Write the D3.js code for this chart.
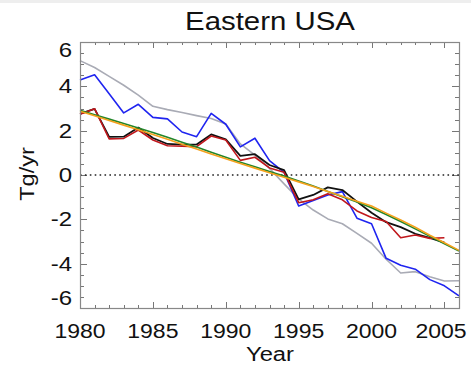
<!DOCTYPE html>
<head>
    <title>Eastern USA</title>
    <script src="https://d3js.org/d3.v7.min.js"></script>
    <style>
        body{
            margin: 0;
            background: #fff;
        }
        svg{
            display: block;
        }
        text{
            font-family: "Liberation Sans", Arial, Helvetica, sans-serif;
            fill: #111;
        }
    </style>
</head>
<body>
    <svg id="chart" width="471" height="367"></svg>
    <script>
        // Data (Tg/yr)
        var years = d3.range(1980, 2007);
        var grayVals = [5.16, 4.85, 4.45, 4.05, 3.6, 3.1, 2.95, 2.82, 2.68, 2.55, 2.3, 1.4, 0.9, 0.3, -0.4, -1.08, -1.58, -1.98, -2.2, -2.63, -3.08, -3.8, -4.42, -4.36, -4.59, -4.78, -4.77];
        var blueVals = [4.29, 4.52, 3.67, 2.8, 3.19, 2.6, 2.53, 1.94, 1.73, 2.78, 2.29, 1.27, 1.66, 0.65, 0.12, -1.4, -1.15, -0.9, -0.75, -1.95, -2.2, -3.76, -4.07, -4.25, -4.72, -5.0, -5.45];
        var blackVals = [2.76, 2.98, 1.72, 1.73, 2.14, 1.67, 1.4, 1.37, 1.38, 1.83, 1.61, 0.86, 0.94, 0.45, 0.22, -1.1, -0.9, -0.56, -0.68, -1.2, -1.7, -2.13, -2.35, -2.65, -2.84, -3.05];
        var redVals = [2.74, 2.99, 1.63, 1.65, 2.03, 1.58, 1.32, 1.3, 1.28, 1.76, 1.58, 0.66, 0.8, 0.32, 0.12, -1.25, -1.12, -0.85, -1.12, -1.62, -1.92, -2.1, -2.83, -2.71, -2.86, -2.83];
        var greenVals = [2.92, 2.72, 2.52, 2.32, 2.12, 1.92, 1.7, 1.48, 1.26, 1.03, 0.8, 0.58, 0.37, 0.16, -0.05, -0.27, -0.5, -0.74, -0.98, -1.22, -1.48, -1.78, -2.1, -2.43, -2.77, -3.1, -3.43];
        var orangeVals = [2.88, 2.67, 2.46, 2.25, 2.04, 1.83, 1.61, 1.39, 1.17, 0.95, 0.73, 0.52, 0.31, 0.1, -0.1, -0.31, -0.52, -0.74, -0.96, -1.18, -1.4, -1.72, -2.03, -2.36, -2.72, -3.06, -3.4];

        var xTickLabels = [1980, 1985, 1990, 1995, 2000, 2005];
        var yTickLabels = [-6, -4, -2, 0, 2, 4, 6];

        var svg = d3.select("#chart");
        var pLeft = 80, pRight = 459, pTop = 42, pBottom = 308;

        var x = d3.scaleLinear().domain([1980, 2006]).range([pLeft, pRight]);
        var y = d3.scaleLinear().domain([-6, 6]).range([pBottom, pTop]);

        // thin grey strip along the top edge of the image
        svg.append("rect").attr("x", 0).attr("y", 0).attr("width", 471).attr("height", 3).attr("fill", "#eeeeee");

        // stretch text a bit wider, like the original font
        function stretch(sel, factor){
            sel.each(function(){
                var w = this.getComputedTextLength();
                d3.select(this).attr("textLength", w * factor).attr("lengthAdjust", "spacingAndGlyphs");
            });
        }

        // tick marks on all four sides, pointing inward
        var ticks = svg.append("g").attr("stroke", "#777").attr("stroke-width", 1);
        d3.range(1980, 2007).forEach(function(yr){
            var len = yr % 5 === 0 ? 6 : 3;
            var xp = Math.round(x(yr)) + 0.5;
            ticks.append("line").attr("x1", xp).attr("x2", xp).attr("y1", pBottom).attr("y2", pBottom - len);
            ticks.append("line").attr("x1", xp).attr("x2", xp).attr("y1", pTop).attr("y2", pTop + len);
        });
        d3.range(-6, 6.01, 0.5).forEach(function(v){
            var len = v % 2 === 0 ? 7 : 4;
            var yp = Math.round(y(v)) + 0.5;
            ticks.append("line").attr("x1", pLeft).attr("x2", pLeft + len).attr("y1", yp).attr("y2", yp);
            ticks.append("line").attr("x1", pRight).attr("x2", pRight - len).attr("y1", yp).attr("y2", yp);
        });

        // zero line
        svg.append("line")
            .attr("x1", pLeft).attr("x2", pRight)
            .attr("y1", y(0)).attr("y2", y(0))
            .attr("stroke", "#222").attr("stroke-width", 1.6)
            .attr("stroke-dasharray", "1.6,3.3");

        // series
        var line = d3.line()
            .x(function(d){ return x(d[0]); })
            .y(function(d){ return y(d[1]); });

        var series = [
            {vals: grayVals, color: "#a9abb5", w: 1.6},
            {vals: blueVals, color: "#1f24f0", w: 1.6},
            {vals: blackVals, color: "#111111", w: 1.8},
            {vals: redVals, color: "#c0171c", w: 1.6},
            {vals: greenVals, color: "#22862a", w: 1.6},
            {vals: orangeVals, color: "#f5a11c", w: 1.6}
        ];

        series.forEach(function(s){
            var pts = s.vals.map(function(v, i){ return [years[i], v]; });
            svg.append("path")
                .datum(pts)
                .attr("d", line)
                .attr("fill", "none")
                .attr("stroke", s.color)
                .attr("stroke-width", s.w)
                .attr("stroke-linejoin", "round");
        });

        // frame
        svg.append("rect")
            .attr("x", pLeft + 0.5).attr("y", pTop + 0.5)
            .attr("width", pRight - pLeft).attr("height", pBottom - pTop)
            .attr("fill", "none").attr("stroke", "#888").attr("stroke-width", 1.2);

        // tick labels
        svg.append("g").selectAll("text")
            .data(xTickLabels)
            .enter()
            .append("text")
            .attr("x", function(d){ return Math.min(x(d), 441); })
            .attr("y", 338)
            .attr("text-anchor", "middle")
            .style("font-size", "19.5px")
            .text(function(d){ return d; })
            .call(stretch, 1.18);

        svg.append("g").selectAll("text")
            .data(yTickLabels)
            .enter()
            .append("text")
            .attr("x", 72)
            .attr("y", function(d){ return Math.min(Math.max(y(d), pTop + 8), pBottom - 10) + 7; })
            .attr("text-anchor", "end")
            .style("font-size", "20px")
            .text(function(d){ return d; })
            .call(stretch, 1.2);

        // title and axis titles
        svg.append("text")
            .attr("x", 270).attr("y", 29.5)
            .attr("text-anchor", "middle")
            .style("font-size", "26px")
            .text("Eastern USA")
            .call(stretch, 1.13);

        svg.append("text")
            .attr("x", 270).attr("y", 361)
            .attr("text-anchor", "middle")
            .style("font-size", "19.5px")
            .text("Year")
            .call(stretch, 1.22);

        svg.append("text")
            .attr("transform", "translate(34,174) rotate(-90)")
            .attr("text-anchor", "middle")
            .style("font-size", "21px")
            .text("Tg/yr")
            .call(stretch, 1.12);
    </script>
</body>
</html>
